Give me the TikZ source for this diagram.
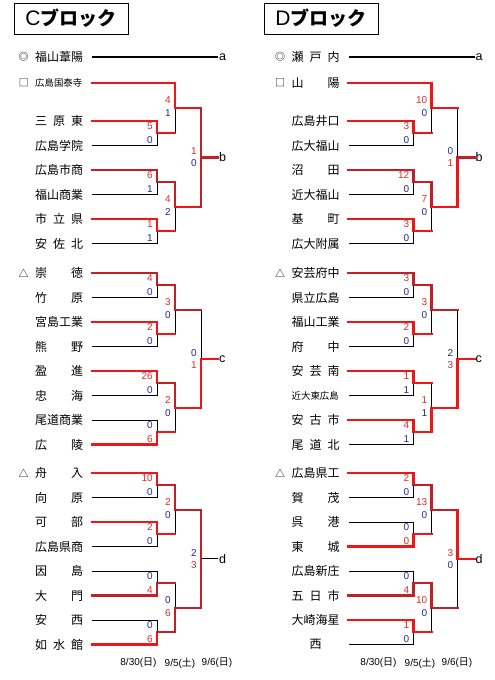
\documentclass[tikz,border=0pt]{standalone}
\usepackage{fontspec}
\setmainfont{Liberation Sans}
\newfontfamily\cjk{Noto Sans CJK JP}
\definecolor{cRB}{RGB}{238,22,22}
\definecolor{cRD}{RGB}{192,32,40}
\definecolor{cSR}{RGB}{226,42,42}
\definecolor{cSB}{RGB}{32,42,140}
\newcommand\NM[3]{\node[nm] (#1) at (35,#2) {\makebox[48pt][l]{#3}};}
\newcommand\NS[3]{\node[nms] (#1) at (35,#2) {\makebox[48pt][l]{#3}};}
% score pair: name, x, ymid, dy, upper text, upper colour, lower text, lower colour
\newcommand\SP[8]{\node[sc,text=#6] (#1u) at (#2,{#3-#4}) {#5};\node[sc,text=#8] (#1l) at (#2,{#3+#4}) {#7};}
\begin{document}
\begin{tikzpicture}[x=1pt,y=-1pt,
  bk/.style={line width=0.9pt,black},
  bkt/.style={line width=1.8pt,black},
  rb/.style={line width=2.2pt,cRB,line cap=rect},
  rd/.style={line width=2.2pt,cRD,line cap=rect},
  nm/.style={anchor=west,inner sep=0pt,font=\cjk\fontsize{12}{12}\selectfont},
  nms/.style={anchor=west,inner sep=0pt,font=\cjk\fontsize{9.4}{10}\selectfont},
  sym/.style={inner sep=0pt,font=\cjk\fontsize{10}{10}\selectfont},
  sc/.style={anchor=east,inner sep=0pt,font=\fontsize{10}{10}\selectfont},
  lab/.style={anchor=west,inner sep=0pt,font=\fontsize{12.5}{12.5}\selectfont},
  dt/.style={inner sep=0pt,font=\fontsize{10}{10}\selectfont},
  ttl/.style={draw,line width=0.8pt,minimum width=114pt,minimum height=31pt,inner sep=0pt}]
\useasboundingbox (0,0) rectangle (495,680);

% ---------------- titles ----------------
\node[ttl] (tC) at (71,18.5) {{\fontsize{21}{21}\selectfont C}{\cjk\bfseries\fontsize{19}{19}\selectfont ブロック}};
\node[ttl] (tD) at (321,18.5) {{\fontsize{21}{21}\selectfont D}{\cjk\bfseries\fontsize{19}{19}\selectfont ブロック}};

% ================= C block =================
\begin{scope}
% names
\node[sym] (cs1) at (23.5,57) {◎};
\NM{c0}{57}{福山葦陽}
\node[sym] (cs2) at (24,83) {□};
\NS{c1}{83}{広島国泰寺}
\NM{c2}{121}{三\hfill 原\hfill 東}
\NM{c3}{145.5}{広島学院}
\NM{c4}{170}{広島市商}
\NM{c5}{194.5}{福山商業}
\NM{c6}{219}{市\hfill 立\hfill 県}
\NM{c7}{243.5}{安\hfill 佐\hfill 北}
\node[sym] (cs3) at (23.5,273) {△};
\NM{c8}{273}{崇\hfill 徳}
\NM{c9}{297.5}{竹\hfill 原}
\NM{c10}{322}{宮島工業}
\NM{c11}{346.5}{熊\hfill 野}
\NM{c12}{371}{盈\hfill 進}
\NM{c13}{395.5}{忠\hfill 海}
\NM{c14}{420}{尾道商業}
\NM{c15}{444.5}{広\hfill 陵}
\node[sym] (cs4) at (23.5,473) {△};
\NM{c16}{473}{舟\hfill 入}
\NM{c17}{497.5}{向\hfill 原}
\NM{c18}{522}{可\hfill 部}
\NM{c19}{546.5}{広島県商}
\NM{c20}{571}{因\hfill 島}
\NM{c21}{595.5}{大\hfill 門}
\NM{c22}{620}{安\hfill 西}
\NM{c23}{644.5}{如\hfill 水\hfill 館}

% black lines
\draw[bkt] (92,57) -- (218,57);
\draw[bk] (92,145.5) -| (157,133.25);
\draw[bk] (175,108.1) -- (175,133.25);
\draw[bk] (92,194.5) -| (157,182.25);
\draw[bk] (92,243.5) -| (157,231.25);
\draw[bk] (175,206.75) -- (175,231.25);
\draw[bk] (92,297.5) -| (157,285.25);
\draw[bk] (92,346.5) -| (157,334.25);
\draw[bk] (175,309.75) -- (175,334.25);
\draw[bk] (92,395.5) -| (157,383.25);
\draw[bk] (92,420) -| (157,432.25);
\draw[bk] (175,407.75) -- (175,432.25);
\draw[bk] (201,309.75) -- (201,358.75);
\draw[bk] (92,497.5) -| (157,485.25);
\draw[bk] (92,546.5) -| (157,534.25);
\draw[bk] (175,509.75) -- (175,534.25);
\draw[bk] (92,571) -| (157,583.25);
\draw[bk] (175,583.25) -- (175,607.75);
\draw[bk] (92,620) -| (157,632.25);
\draw[bk] (201,558.75) -- (218,558.75);
% red lines
\draw[rb] (92,83) -| (175,108.1) -- (201,108.1);
\draw[rb] (92,121) -| (157,133.25) -- (175,133.25);
\draw[rd] (92,170) -| (157,182.25) -- (175,182.25) -- (175,206.75);
\draw[rb] (92,219) -| (157,231.25) -- (175,231.25);
\draw[rb] (175,206.75) -- (201,206.75);
\draw[rd] (201,108.1) -- (201,206.75);
\draw[rd] (201,157.4) -- (218,157.4);
\draw[rd] (92,273) -| (157,285.25) -- (175,285.25) -- (175,309.75) -- (201,309.75);
\draw[rb] (92,322) -| (157,334.25) -- (175,334.25);
\draw[rb] (92,371) -| (157,383.25);
\draw[rd] (157,383.25) -- (175,383.25) -- (175,407.75);
\draw[rb] (175,407.75) -- (201,407.75) -- (201,358.75) -- (218,358.75);
\draw[rb] (92,444.5) -| (157,432.25) -- (175,432.25);
\draw[rb] (92,473) -| (157,485.25);
\draw[rd] (157,485.25) -- (175,485.25) -- (175,509.75) -- (201,509.75) -- (201,607.75);
\draw[rb] (92,522) -| (157,534.25) -- (175,534.25);
\draw[rd] (92,595.5) -| (157,583.25) -- (175,583.25);
\draw[rb] (92,644.5) -| (157,632.25);
\draw[rd] (157,632.25) -- (175,632.25) -- (175,607.75) -- (201,607.75);

% scores
\SP{ca}{153}{133.25}{7}{5}{cSR}{0}{cSB}
\SP{cb}{153}{182.25}{7}{6}{cSR}{1}{cSB}
\SP{cc}{153}{231.25}{7}{1}{cSR}{1}{cSB}
\SP{cd}{171}{107}{6.5}{4}{cSR}{1}{cSB}
\SP{ce}{171}{205.75}{6.5}{4}{cSR}{2}{cSB}
\SP{cf}{197}{157.4}{6}{1}{cSR}{0}{cSB}
\SP{cg}{153}{285.25}{7}{4}{cSR}{0}{cSB}
\SP{ch}{153}{334.25}{7}{2}{cSR}{0}{cSB}
\SP{ci}{153}{383.25}{7}{26}{cSR}{0}{cSB}
\SP{cj}{153}{432.25}{7}{0}{cSB}{6}{cSR}
\SP{ck}{171}{308.75}{6.5}{3}{cSR}{0}{cSB}
\SP{cl}{171}{406.75}{6.5}{2}{cSR}{0}{cSB}
\SP{cm}{197}{358.75}{6}{0}{cSB}{1}{cSR}
\SP{cn}{153}{485.25}{7}{10}{cSR}{0}{cSB}
\SP{co}{153}{534.25}{7}{2}{cSR}{0}{cSB}
\SP{cp}{153}{583.25}{7}{0}{cSB}{4}{cSR}
\SP{cq}{153}{632.25}{7}{0}{cSB}{6}{cSR}
\SP{cr}{171}{508.75}{6.5}{2}{cSR}{0}{cSB}
\SP{cs}{171}{606.75}{6.5}{0}{cSB}{6}{cSR}
\SP{ct}{197}{558.75}{6}{2}{cSB}{3}{cSR}

% labels
\node[lab] (cLa) at (219,57) {a};
\node[lab] (cLb) at (219,157.4) {b};
\node[lab] (cLc) at (219,358.75) {c};
\node[lab] (cLd) at (219,558.75) {d};
% dates
\node[dt] (cD1) at (138.5,663) {8/30({\cjk 日})};
\node[dt] (cD2) at (180,663) {9/5({\cjk 土})};
\node[dt] (cD3) at (217,663) {9/6({\cjk 日})};
\end{scope}

% ================= D block =================
\begin{scope}[xshift=256.5pt]
\node[sym] (ds1) at (23.5,57) {◎};
\NM{d0}{57}{瀬\hfill 戸\hfill 内}
\node[sym] (ds2) at (23.5,83) {□};
\NM{d1}{83}{山\hfill 陽}
\NM{d2}{121}{広島井口}
\NM{d3}{145.5}{広大福山}
\NM{d4}{170}{沼\hfill 田}
\NM{d5}{194.5}{近大福山}
\NM{d6}{219}{基\hfill 町}
\NM{d7}{243.5}{広大附属}
\node[sym] (ds3) at (23.5,273) {△};
\NM{d8}{273}{安芸府中}
\NM{d9}{297.5}{県立広島}
\NM{d10}{322}{福山工業}
\NM{d11}{346.5}{府\hfill 中}
\NM{d12}{371}{安\hfill 芸\hfill 南}
\NS{d13}{395.5}{近大東広島}
\NM{d14}{420}{安\hfill 古\hfill 市}
\NM{d15}{444.5}{尾\hfill 道\hfill 北}
\node[sym] (ds4) at (23.5,473) {△};
\NM{d16}{473}{広島県工}
\NM{d17}{497.5}{賀\hfill 茂}
\NM{d18}{522}{呉\hfill 港}
\NM{d19}{546.5}{東\hfill 城}
\NM{d20}{571}{広島新庄}
\NM{d21}{595.5}{五\hfill 日\hfill 市}
\NM{d22}{620}{大崎海星}
\NM{d23}{644.5}{\hfill 西\hfill}

% black lines
\draw[bkt] (92,57) -- (218,57);
\draw[bk] (92,145.5) -| (157,133.25);
\draw[bk] (175,108.1) -- (175,133.25);
\draw[bk] (92,194.5) -| (157,182.25);
\draw[bk] (92,243.5) -| (157,231.25);
\draw[bk] (175,206.75) -- (175,231.25);
\draw[bk] (201,108.1) -- (201,157.4);
\draw[bk] (92,297.5) -| (157,285.25);
\draw[bk] (92,346.5) -| (157,334.25);
\draw[bk] (175,309.75) -- (175,334.25);
\draw[bk] (92,395.5) -| (157,383.25);
\draw[bk] (175,383.25) -- (175,407.75);
\draw[bk] (92,444.5) -| (157,432.25);
\draw[bk] (201,309.75) -- (201,358.75);
\draw[bk] (92,497.5) -| (157,485.25);
\draw[bk] (92,522) -| (157,534.25);
\draw[bk] (175,509.75) -- (175,534.25);
\draw[bk] (92,571) -| (157,583.25);
\draw[bk] (175,607.75) -- (175,632.25);
\draw[bk] (92,644.5) -| (157,632.25);
\draw[bk] (201,558.75) -- (201,607.75);
% red lines
\draw[rb] (92,83) -| (175,108.1) -- (201,108.1);
\draw[rb] (92,121) -| (157,133.25) -- (175,133.25);
\draw[rd] (92,170) -| (157,182.25) -- (175,182.25) -- (175,206.75);
\draw[rb] (92,219) -| (157,231.25) -- (175,231.25);
\draw[rb] (175,206.75) -- (201,206.75) -- (201,157.4);
\draw[rd] (201,157.4) -- (218,157.4);
\draw[rd] (92,273) -| (157,285.25) -- (175,285.25) -- (175,309.75) -- (201,309.75);
\draw[rb] (92,322) -| (157,334.25) -- (175,334.25);
\draw[rb] (92,371) -| (157,383.25) -- (175,383.25);
\draw[rb] (92,420) -| (157,432.25) -- (175,432.25) -- (175,407.75) -- (201,407.75) -- (201,358.75) -- (218,358.75);
\draw[rb] (92,473) -| (157,485.25);
\draw[rd] (157,485.25) -- (175,485.25) -- (175,509.75) -- (201,509.75);
\draw[rb] (201,509.75) -- (201,558.75) -- (218,558.75);
\draw[rb] (92,546.5) -| (157,534.25) -- (175,534.25);
\draw[rd] (92,595.5) -| (157,583.25) -- (175,583.25) -- (175,607.75) -- (201,607.75);
\draw[rb] (92,620) -| (157,632.25) -- (175,632.25);

% scores
\SP{da}{153}{133.25}{7}{3}{cSR}{0}{cSB}
\SP{db}{153}{182.25}{7}{12}{cSR}{0}{cSB}
\SP{dc}{153}{231.25}{7}{3}{cSR}{0}{cSB}
\SP{dd}{171}{107}{6.5}{10}{cSR}{0}{cSB}
\SP{de}{171}{205.75}{6.5}{7}{cSR}{0}{cSB}
\SP{df}{197}{157.4}{6}{0}{cSB}{1}{cSR}
\SP{dg}{153}{285.25}{7}{3}{cSR}{0}{cSB}
\SP{dh}{153}{334.25}{7}{2}{cSR}{0}{cSB}
\SP{di}{153}{383.25}{7}{1}{cSR}{1}{cSB}
\SP{dj}{153}{432.25}{7}{4}{cSR}{1}{cSB}
\SP{dk}{171}{308.75}{6.5}{3}{cSR}{0}{cSB}
\SP{dl}{171}{406.75}{6.5}{1}{cSR}{1}{cSB}
\SP{dm}{197}{358.75}{6}{2}{cSB}{3}{cSR}
\SP{dn}{153}{485.25}{7}{2}{cSR}{0}{cSB}
\SP{do}{153}{534.25}{7}{0}{cSB}{0}{cSR}
\SP{dp}{153}{583.25}{7}{0}{cSB}{4}{cSR}
\SP{dq}{153}{632.25}{7}{1}{cSR}{0}{cSB}
\SP{dr}{171}{508.75}{6.5}{13}{cSR}{0}{cSB}
\SP{ds}{171}{606.75}{6.5}{10}{cSR}{0}{cSB}
\SP{dt}{197}{558.75}{6}{3}{cSR}{0}{cSB}

\node[lab] (dLa) at (219,57) {a};
\node[lab] (dLb) at (219,157.4) {b};
\node[lab] (dLc) at (219,358.75) {c};
\node[lab] (dLd) at (219,558.75) {d};
\end{scope}
\node[dt] (dD1) at (378.5,663) {8/30({\cjk 日})};
\node[dt] (dD2) at (420,663) {9/5({\cjk 土})};
\node[dt] (dD3) at (457,663) {9/6({\cjk 日})};
\end{tikzpicture}
\end{document}
